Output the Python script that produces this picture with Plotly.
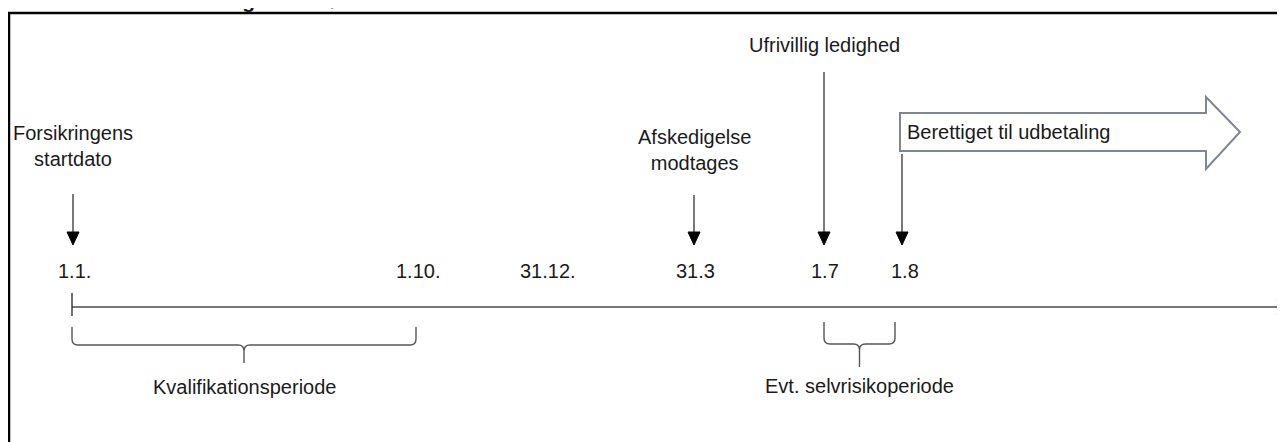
import plotly.graph_objects as go

W, H = 1285, 442
OFF = 8  # page body margin: axis coordinates below equal page pixels

# ---- data (schematic timeline) ----
date_labels = ["1.1.", "1.10.", "31.12.", "31.3", "1.7", "1.8"]
date_pos = [74, 418, 548, 695, 825, 905]

event_texts = ["Forsikringens<br>startdato", "Afskedigelse<br>modtages",
               "Ufrivillig ledighed", ""]
event_pos = [73, 694, 824, 902]
event_text_y = [146, 150, 45, 0]
event_arrow_start = [194, 195, 72, 154]

period_labels = ["Kvalifikationsperiode", "Evt. selvrisikoperiode"]
period_start = [72, 824]
period_end = [416, 895]

payout_label = "Berettiget til udbetaling"
title_text = "Illustration af dækningens forløb"

FONT = "Liberation Sans, Arial, sans-serif"
TXT = "#1a1a1a"

fig = go.Figure()
shapes = []
annotations = []

# frame
shapes.append(dict(type="rect", x0=9, y0=13, x1=W + 30, y1=H + 30,
                   line=dict(color="black", width=2.5), fillcolor="rgba(0,0,0,0)"))

# title (mostly above the visible area, as in the reference)
annotations.append(dict(x=28, y=14, xref="x", yref="y", text="<b>" + title_text + "</b>",
                        showarrow=False, xanchor="left", yanchor="bottom",
                        font=dict(family=FONT, size=21, color=TXT)))

# timeline
TL_Y = 307
x_start = period_start[0]
shapes.append(dict(type="line", x0=x_start, y0=TL_Y, x1=W + 1, y1=TL_Y,
                   line=dict(color="#4a4a4a", width=1.3)))
shapes.append(dict(type="line", x0=x_start, y0=293, x1=x_start, y1=316,
                   line=dict(color="#222", width=1.3)))
shapes.append(dict(type="path", path=f"M{W-8},{TL_Y-8} L{W+1},{TL_Y} L{W-8},{TL_Y+8}",
                   line=dict(color="#555", width=1.3)))

# date labels
for lab, xp in zip(date_labels, date_pos):
    annotations.append(dict(x=xp, y=271, xref="x", yref="y", text=lab, showarrow=False,
                            font=dict(family=FONT, size=20, color=TXT)))

# event arrows and texts
TIP = 245
for txt, xp, ty, ys in zip(event_texts, event_pos, event_text_y, event_arrow_start):
    shapes.append(dict(type="line", x0=xp, y0=ys, x1=xp, y1=TIP - 10,
                       line=dict(color="#222", width=1.2)))
    shapes.append(dict(type="path", path=f"M{xp-6},{TIP-13} L{xp+6},{TIP-13} L{xp},{TIP} Z",
                       fillcolor="black", line=dict(color="black", width=1)))
    if txt:
        annotations.append(dict(x=xp, y=ty, xref="x", yref="y", text=txt, showarrow=False,
                                font=dict(family=FONT, size=20, color=TXT)))

# big outlined payout arrow
ax0 = event_pos[3] - 2
body_t, body_b, head_t, head_b, neck, tip = 113, 151, 97, 169, 1206, 1240
mid = (body_t + body_b) / 2
shapes.append(dict(type="path",
                   path=(f"M{ax0},{body_t} L{neck},{body_t} L{neck},{head_t} L{tip},{mid} "
                         f"L{neck},{head_b} L{neck},{body_b} L{ax0},{body_b} Z"),
                   line=dict(color="#7d8791", width=2), fillcolor="white"))
annotations.append(dict(x=ax0 + 5, y=mid, xref="x", yref="y", text=payout_label,
                        showarrow=False, xanchor="left",
                        font=dict(family=FONT, size=20, color=TXT)))

# braces
brace_specs = [(327, 345, 363, 387), (322, 344, 367, 386)]
for (x0, x1), (top, hor, tipy, lab_y), lab in zip(zip(period_start, period_end), brace_specs, period_labels):
    xm = (x0 + x1) / 2
    r = 6
    p = (f"M{x0},{top} L{x0},{hor-r} Q{x0},{hor} {x0+r},{hor} L{xm-r},{hor} "
         f"Q{xm},{hor} {xm},{hor+r} L{xm},{tipy} M{xm},{hor+r} Q{xm},{hor} {xm+r},{hor} "
         f"L{x1-r},{hor} Q{x1},{hor} {x1},{hor-r} L{x1},{top}")
    shapes.append(dict(type="path", path=p, line=dict(color="#555", width=1.4)))
    annotations.append(dict(x=xm, y=lab_y, xref="x", yref="y", text=lab, showarrow=False,
                            font=dict(family=FONT, size=20, color=TXT)))

fig.update_layout(
    width=W, height=H, margin=dict(l=0, r=0, t=0, b=0),
    paper_bgcolor="white", plot_bgcolor="white",
    xaxis=dict(range=[OFF, W + OFF], visible=False, fixedrange=True),
    yaxis=dict(range=[H + OFF, OFF], visible=False, fixedrange=True),
    shapes=shapes, annotations=annotations, showlegend=False,
)

fig.write_html("out.html", config={"displayModeBar": False})
